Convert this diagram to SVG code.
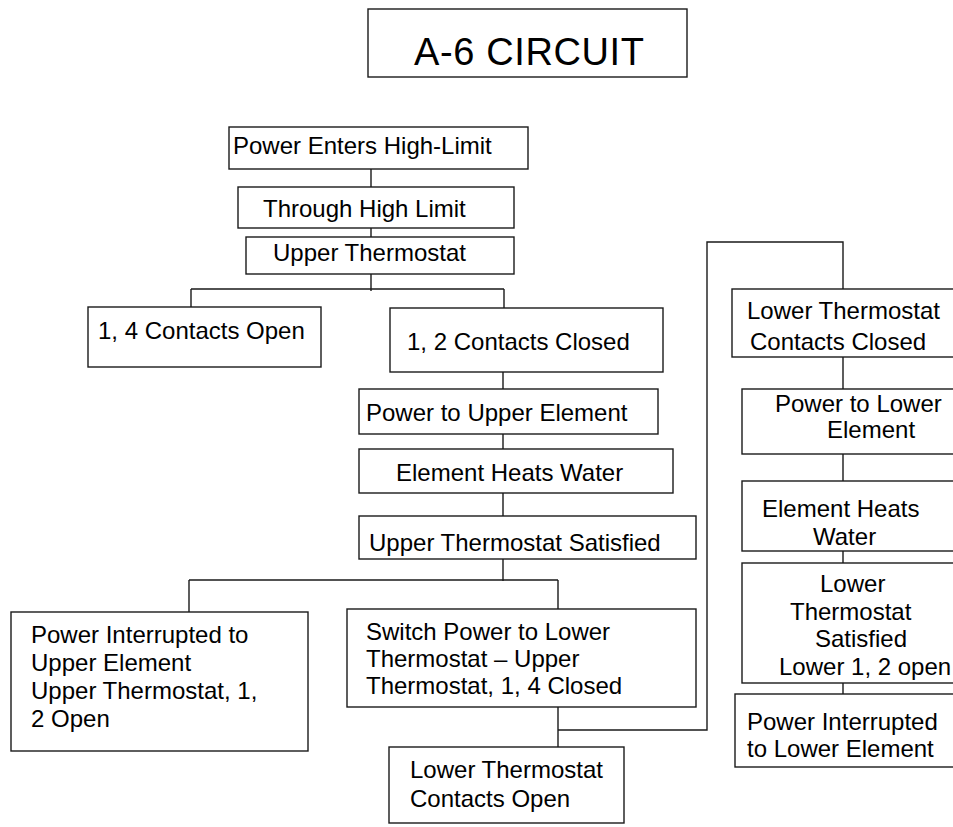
<svg xmlns="http://www.w3.org/2000/svg" width="953" height="827" viewBox="0 0 953 827">
<style>
.box{fill:#fff;stroke:#1a1a1a;stroke-width:1.4}
.ln{fill:none;stroke:#1a1a1a;stroke-width:1.4}
text{font-family:"Liberation Sans",Arial,sans-serif;font-size:24px;fill:#000}
.title{font-size:38px}
</style>
<rect width="953" height="827" fill="#fff"/>
<g id="connectors">
<path class="ln" d="M371 169V187M371 228V237M371 274V291M191 289H504M191 289V307M504 289V308"/>
<path class="ln" d="M503 372V389M503 434V449M503 493V516M503 559V581M189 580H558M189 580V612M558 580V609"/>
<path class="ln" d="M558 707V747M558 730H707V242H843V289M843 357V389M843 454V481M843 551V563M843 683V694"/>
</g>
<g id="title"><rect class="box" x="368" y="9" width="319" height="68"/><text class="title" x="414" y="65" textLength="230">A-6 CIRCUIT</text></g>
<g id="n1"><rect class="box" x="229" y="127" width="299" height="42"/><text x="233" y="154">Power Enters High-Limit</text></g>
<g id="n2"><rect class="box" x="238" y="187" width="276" height="41"/><text x="263" y="217">Through High Limit</text></g>
<g id="n3"><rect class="box" x="246" y="237" width="268" height="37"/><text x="273" y="261">Upper Thermostat</text></g>
<g id="n4"><rect class="box" x="88" y="307" width="233" height="60"/><text x="98" y="339">1, 4 Contacts Open</text></g>
<g id="n5"><rect class="box" x="390" y="308" width="273" height="64"/><text x="407" y="350">1, 2 Contacts Closed</text></g>
<g id="n6"><rect class="box" x="359" y="389" width="299" height="45"/><text x="366" y="421">Power to Upper Element</text></g>
<g id="n7"><rect class="box" x="359" y="449" width="314" height="44"/><text x="396" y="481">Element Heats Water</text></g>
<g id="n8"><rect class="box" x="359" y="516" width="337" height="43"/><text x="369" y="551">Upper Thermostat Satisfied</text></g>
<g id="n9"><rect class="box" x="11" y="612" width="297" height="139"/><text x="31" y="643">Power Interrupted to</text><text x="31" y="671">Upper Element</text><text x="31" y="699">Upper Thermostat, 1,</text><text x="31" y="727">2 Open</text></g>
<g id="n10"><rect class="box" x="347" y="609" width="349" height="98"/><text x="366" y="640">Switch Power to Lower</text><text x="366" y="667">Thermostat – Upper</text><text x="366" y="694">Thermostat, 1, 4 Closed</text></g>
<g id="n11"><rect class="box" x="389" y="747" width="235" height="76"/><text x="410" y="778">Lower Thermostat</text><text x="410" y="807">Contacts Open</text></g>
<g id="n12"><rect class="box" x="732" y="289" width="240" height="68"/><text x="747" y="319">Lower Thermostat</text><text x="750" y="350">Contacts Closed</text></g>
<g id="n13"><rect class="box" x="742" y="389" width="230" height="65"/><text x="775" y="412">Power to Lower</text><text x="827" y="438">Element</text></g>
<g id="n14"><rect class="box" x="742" y="481" width="230" height="70"/><text x="762" y="517">Element Heats</text><text x="813" y="545">Water</text></g>
<g id="n15"><rect class="box" x="742" y="563" width="230" height="120"/><text x="820" y="592">Lower</text><text x="790" y="620">Thermostat</text><text x="815" y="647">Satisfied</text><text x="779" y="675">Lower 1, 2 open</text></g>
<g id="n16"><rect class="box" x="735" y="694" width="237" height="73"/><text x="747" y="730">Power Interrupted</text><text x="747" y="757">to Lower Element</text></g>
</svg>
